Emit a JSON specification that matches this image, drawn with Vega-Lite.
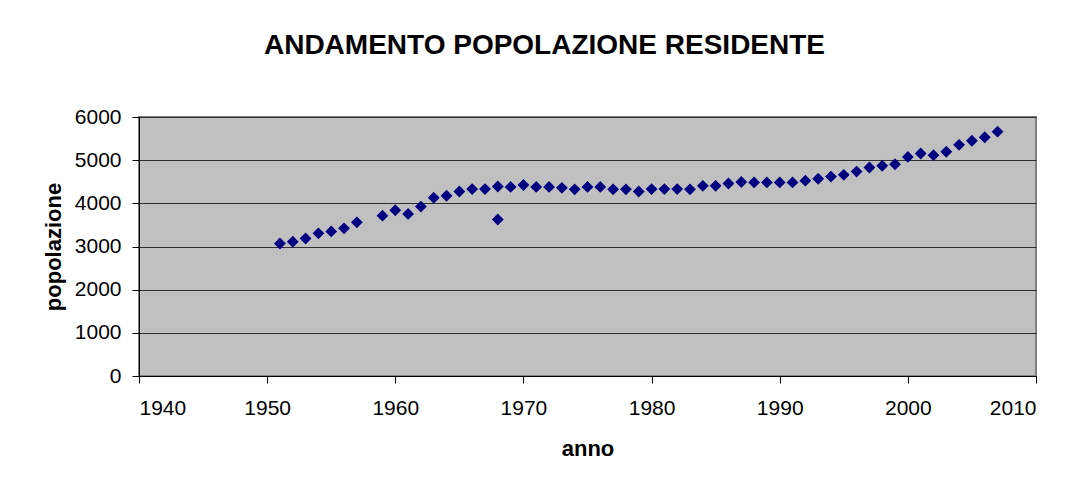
{
  "$schema": "https://vega.github.io/schema/vega-lite/v6.json",
  "width": 897,
  "height": 259,
  "autosize": {"type": "none"},
  "padding": {"left": 139, "top": 117, "right": 32, "bottom": 108},
  "background": "white",
  "title": {
    "text": "ANDAMENTO POPOLAZIONE RESIDENTE",
    "font": "Liberation Sans",
    "fontSize": 28,
    "fontWeight": "bold",
    "color": "black",
    "anchor": "middle",
    "baseline": "alphabetic",
    "offset": 24,
    "dx": -43
  },
  "config": {
    "view": {"fill": "#C0C0C0", "stroke": "#808080", "strokeWidth": 2},
    "axis": {
      "labelFont": "Liberation Sans",
      "labelFontSize": 21,
      "labelColor": "black",
      "titleFont": "Liberation Sans",
      "titleFontSize": 22,
      "titleFontWeight": "bold",
      "titleColor": "black",
      "domainColor": "black",
      "domainWidth": 1,
      "tickColor": "black",
      "tickWidth": 1,
      "tickSize": 7
    }
  },
  "data": {
    "values": [
      {"anno": 1951, "popolazione": 3070},
      {"anno": 1952, "popolazione": 3110},
      {"anno": 1953, "popolazione": 3185},
      {"anno": 1954, "popolazione": 3305},
      {"anno": 1955, "popolazione": 3350},
      {"anno": 1956, "popolazione": 3420},
      {"anno": 1957, "popolazione": 3560},
      {"anno": 1959, "popolazione": 3715},
      {"anno": 1960, "popolazione": 3840},
      {"anno": 1961, "popolazione": 3755},
      {"anno": 1962, "popolazione": 3925},
      {"anno": 1963, "popolazione": 4130},
      {"anno": 1964, "popolazione": 4175},
      {"anno": 1965, "popolazione": 4275},
      {"anno": 1966, "popolazione": 4330},
      {"anno": 1967, "popolazione": 4330},
      {"anno": 1968, "popolazione": 4390},
      {"anno": 1968, "popolazione": 3625},
      {"anno": 1969, "popolazione": 4380},
      {"anno": 1970, "popolazione": 4425},
      {"anno": 1971, "popolazione": 4380},
      {"anno": 1972, "popolazione": 4380},
      {"anno": 1973, "popolazione": 4360},
      {"anno": 1974, "popolazione": 4325},
      {"anno": 1975, "popolazione": 4380},
      {"anno": 1976, "popolazione": 4380},
      {"anno": 1977, "popolazione": 4325},
      {"anno": 1978, "popolazione": 4325},
      {"anno": 1979, "popolazione": 4275},
      {"anno": 1980, "popolazione": 4330},
      {"anno": 1981, "popolazione": 4330},
      {"anno": 1982, "popolazione": 4330},
      {"anno": 1983, "popolazione": 4325},
      {"anno": 1984, "popolazione": 4405},
      {"anno": 1985, "popolazione": 4405},
      {"anno": 1986, "popolazione": 4460},
      {"anno": 1987, "popolazione": 4495},
      {"anno": 1988, "popolazione": 4485},
      {"anno": 1989, "popolazione": 4485},
      {"anno": 1990, "popolazione": 4485},
      {"anno": 1991, "popolazione": 4485},
      {"anno": 1992, "popolazione": 4525},
      {"anno": 1993, "popolazione": 4570},
      {"anno": 1994, "popolazione": 4620},
      {"anno": 1995, "popolazione": 4660},
      {"anno": 1996, "popolazione": 4735},
      {"anno": 1997, "popolazione": 4830},
      {"anno": 1998, "popolazione": 4870},
      {"anno": 1999, "popolazione": 4905},
      {"anno": 2000, "popolazione": 5075},
      {"anno": 2001, "popolazione": 5155},
      {"anno": 2002, "popolazione": 5115},
      {"anno": 2003, "popolazione": 5195},
      {"anno": 2004, "popolazione": 5355},
      {"anno": 2005, "popolazione": 5450},
      {"anno": 2006, "popolazione": 5530},
      {"anno": 2007, "popolazione": 5660}
    ]
  },
  "mark": {
    "type": "point",
    "shape": "diamond",
    "filled": true,
    "size": 140,
    "color": "#000080",
    "opacity": 1
  },
  "encoding": {
    "x": {
      "field": "anno",
      "type": "quantitative",
      "scale": {"domain": [1940, 2010], "nice": false, "zero": false},
      "axis": {
        "title": "anno",
        "values": [1940, 1950, 1960, 1970, 1980, 1990, 2000, 2010],
        "format": "d",
        "grid": false,
        "labelPadding": 14,
        "titlePadding": 20
      }
    },
    "y": {
      "field": "popolazione",
      "type": "quantitative",
      "scale": {"domain": [0, 6000], "nice": false},
      "axis": {
        "title": "popolazione",
        "values": [0, 1000, 2000, 3000, 4000, 5000, 6000],
        "format": "d",
        "grid": true,
        "gridColor": "#303030",
        "gridWidth": 1,
        "gridOpacity": 1,
        "labelPadding": 11,
        "titlePadding": 9
      }
    }
  }
}
